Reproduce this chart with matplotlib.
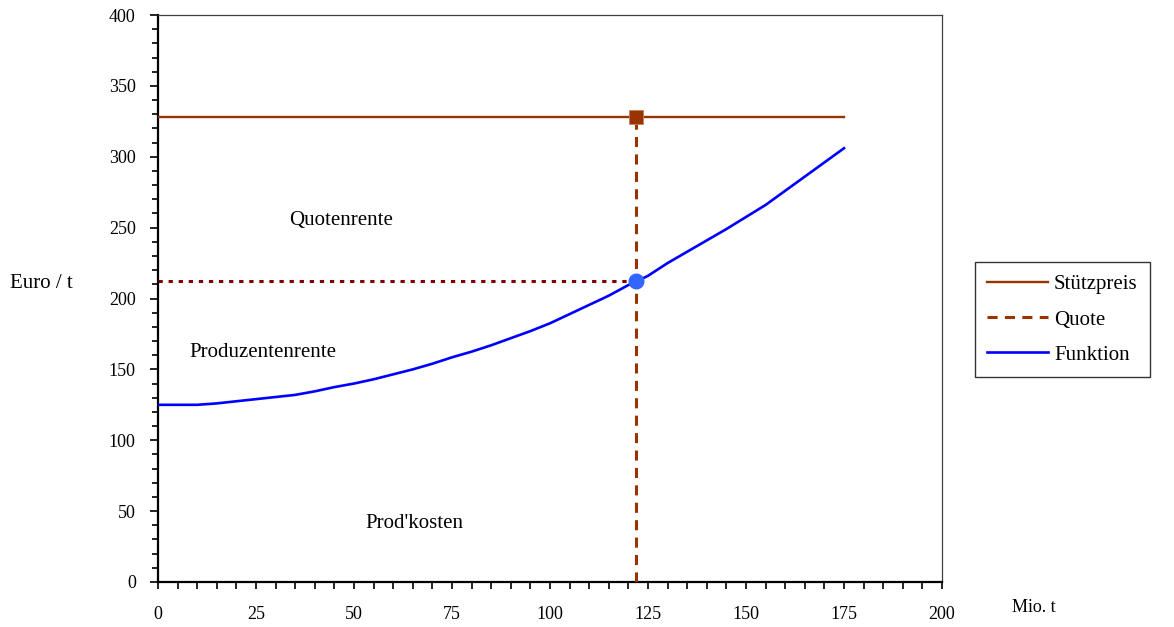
import matplotlib
matplotlib.use("Agg")
import matplotlib.pyplot as plt
from matplotlib.ticker import MultipleLocator

plt.rcParams['font.family'] = ['Liberation Serif', 'DejaVu Serif']

# Data
menge = [0, 5, 10, 15, 20, 25, 30, 35, 40, 45, 50, 55, 60, 65, 70, 75, 80, 85,
         90, 95, 100, 105, 110, 115, 120, 122, 125, 130, 135, 140, 145, 150,
         155, 160, 165, 170, 175]
kosten = [125, 125, 125, 126, 127.5, 129, 130.5, 132, 134.5, 137.5, 140, 143,
          146.5, 150, 154, 158.5, 162.5, 167, 172, 177, 182.5, 189, 195.5, 202,
          209.5, 212, 216, 225, 233, 241, 249, 257.5, 266, 276, 286, 296, 306]
stuetz_x = [0, 175]
stuetz_y = [328, 328]
quote_x = [122, 122]
quote_y = [0, 328]
preis_x = [0, 122]
preis_y = [212, 212]
punkt_quote = (122, 328)
punkt_funktion = (122, 212)
labels_text = ["Quotenrente", "Produzentenrente", "Prod'kosten"]
labels_pos = [(33.5, 255), (8, 162), (53, 41)]

brown = '#993300'
darkred = '#800000'

fig = plt.figure(figsize=(11.74, 6.27), dpi=100)
ax = fig.add_axes([158/1174, 1-582/627, 784/1174, 567/627])

ax.plot(stuetz_x, stuetz_y, color=brown, lw=1.7, label='Stützpreis', zorder=3)
ax.plot(quote_x, quote_y, color=brown, lw=2.2, dashes=(3.3, 2.4), label='Quote', zorder=3)
ax.plot(preis_x, preis_y, color=darkred, lw=2.2, dashes=(1.4, 1.9), zorder=3)
ax.plot(menge, kosten, color='#0000FF', lw=1.9, label='Funktion', zorder=4)
ax.plot([punkt_quote[0]], [punkt_quote[1]], marker='s', ms=10, color=brown,
        mec='#c08060', mew=0.6, ls='none', zorder=5)
ax.plot([punkt_funktion[0]], [punkt_funktion[1]], marker='o', ms=10.5,
        color='#3366FF', ls='none', zorder=5)

for t, (x, y) in zip(labels_text, labels_pos):
    ax.text(x, y, t, fontsize=15, ha='left', va='center')

ax.set_xlim(0, 200)
ax.set_ylim(0, 400)
ax.xaxis.set_major_locator(MultipleLocator(25))
ax.xaxis.set_minor_locator(MultipleLocator(5))
ax.yaxis.set_major_locator(MultipleLocator(50))
ax.yaxis.set_minor_locator(MultipleLocator(10))
ax.tick_params(axis='x', which='both', direction='out', length=5, width=1.2,
               labelsize=13, pad=12)
ax.tick_params(axis='y', which='major', direction='out', length=6, width=1.2,
               labelsize=13, pad=10)
ax.tick_params(axis='y', which='minor', direction='out', length=4.5, width=1.2)

for s in ['left', 'bottom']:
    ax.spines[s].set_linewidth(1.6)
    ax.spines[s].set_color('black')
for s in ['top', 'right']:
    ax.spines[s].set_linewidth(0.9)
    ax.spines[s].set_color('#404040')

fig.text(10/1174, 1-284/627, 'Euro / t', fontsize=15, ha='left', va='center')
fig.text(1012/1174, 1-607/627, 'Mio. t', fontsize=13, ha='left', va='center')

leg = ax.legend(loc='upper left', bbox_to_anchor=(1.042, 0.564), borderaxespad=0,
                fontsize=15, frameon=True, fancybox=False, handlelength=2.9,
                labelspacing=0.75, borderpad=0.6, handletextpad=0.3)
leg.get_frame().set_edgecolor('black')
leg.get_frame().set_linewidth(1.0)

fig.savefig('out.png', dpi=100)
